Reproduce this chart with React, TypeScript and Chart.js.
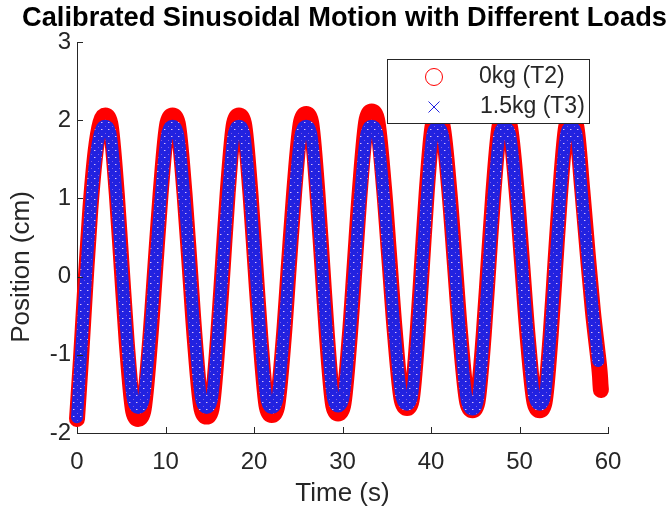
import React, { useEffect, useRef } from "react";
import { Chart, registerables } from "chart.js";

Chart.register(...registerables);

const FONT = "'Liberation Sans', Arial, Helvetica, sans-serif";
const TITLE = "Calibrated Sinusoidal Motion with Different Loads";
const X_LABEL = "Time (s)";
const Y_LABEL = "Position (cm)";
const SERIES_NAMES = ["0kg (T2)", "1.5kg (T3)"];

const xTickValues = [0, 10, 20, 30, 40, 50, 60];
const yTickValues = [-2, -1, 0, 1, 2, 3];

// time stamps (s) shared by both records
const timeCommon = [
  0, 0.45, 0.95, 1.5, 2.1, 2.65, 3.2,
  3.76, 4.5, 5.05, 5.6, 6.35, 6.9,
  7.49, 8.27, 8.85, 9.44, 10.22, 10.8,
  11.38, 12.15, 12.73, 13.3, 14.07, 14.65,
  15.2, 15.93, 16.48, 17.02, 17.75, 18.3,
  18.86, 19.6, 20.15, 20.71, 21.45, 22.0,
  22.59, 23.37, 23.95, 24.54, 25.32, 25.9,
  26.44, 27.16, 27.7, 28.24, 28.96, 29.5,
  30.07, 30.83, 31.4, 31.97, 32.73, 33.3,
  33.9, 34.7, 35.3, 35.9, 36.7, 37.3,
  37.81, 38.49, 39.0, 39.51, 40.19, 40.7,
  41.3, 42.1, 42.7, 43.3, 44.1, 44.7,
  45.24, 45.96, 46.5, 47.04, 47.76, 48.3,
  48.9, 49.7, 50.3, 50.9, 51.7, 52.3,
  52.83, 53.53, 54.05, 54.58, 55.28, 55.8,
  56.4, 57.1, 57.7, 58.3, 58.8,
];

// 0kg (T2) position (cm)
const pos0kg = [
  -1.82, -1.05, -0.1, 0.85, 1.6, 1.97, 2.06,
  1.96, 1.05, 0.12, -0.81, -1.72, -1.82,
  -1.72, -0.81, 0.12, 1.05, 1.96, 2.06,
  1.96, 1.06, 0.14, -0.79, -1.69, -1.79,
  -1.69, -0.79, 0.14, 1.06, 1.96, 2.06,
  1.96, 1.06, 0.15, -0.77, -1.67, -1.77,
  -1.67, -0.77, 0.16, 1.08, 1.98, 2.08,
  1.98, 1.08, 0.17, -0.75, -1.65, -1.75,
  -1.65, -0.75, 0.18, 1.11, 2.01, 2.11,
  2.01, 1.12, 0.22, -0.69, -1.58, -1.68,
  -1.58, -0.72, 0.18, 1.07, 1.93, 2.03,
  1.93, 1.06, 0.16, -0.74, -1.61, -1.71,
  -1.61, -0.74, 0.16, 1.06, 1.93, 2.03,
  1.93, 1.06, 0.16, -0.74, -1.61, -1.71,
  -1.61, -0.74, 0.16, 1.05, 1.92, 2.02,
  1.93, 1.1, 0.3, -0.45, -0.95,
];
const time0kgTail = [59.0, 59.1, 59.15, 59.2];
const pos0kgTail = [-1.15, -1.28, -1.38, -1.45];

// 1.5kg (T3) position (cm)
const pos15kg = [
  -1.8, -1.0, -0.12, 0.8, 1.52, 1.86, 1.93,
  1.84, 0.99, 0.13, -0.74, -1.59, -1.68,
  -1.59, -0.74, 0.13, 0.99, 1.84, 1.93,
  1.84, 0.99, 0.13, -0.74, -1.59, -1.68,
  -1.59, -0.74, 0.13, 0.99, 1.84, 1.93,
  1.84, 0.99, 0.13, -0.74, -1.59, -1.68,
  -1.59, -0.74, 0.13, 0.99, 1.84, 1.93,
  1.84, 1.0, 0.14, -0.73, -1.57, -1.66,
  -1.57, -0.73, 0.14, 1.0, 1.84, 1.93,
  1.84, 1.0, 0.15, -0.71, -1.55, -1.64,
  -1.55, -0.71, 0.14, 0.99, 1.83, 1.92,
  1.83, 0.98, 0.11, -0.76, -1.61, -1.7,
  -1.61, -0.76, 0.11, 0.98, 1.83, 1.92,
  1.83, 0.99, 0.14, -0.71, -1.55, -1.64,
  -1.55, -0.71, 0.14, 0.99, 1.83, 1.92,
  1.84, 1.0, 0.25, -0.45, -0.98,
];
const time15kgTail = [58.9];
const pos15kgTail = [-1.08];

const RED = "#ff0000";
const BLUE = "#2222e0";
const AXIS = "#262626";

function toPoints(times: number[], values: number[]) {
  return times.map((t, i) => ({ x: t, y: values[i] }));
}

// speckled fill imitating densely overlapping 'x' markers
function makeBluePattern(): CanvasPattern | string {
  const c = document.createElement("canvas");
  c.width = 7;
  c.height = 7;
  const g = c.getContext("2d");
  if (!g) return BLUE;
  g.fillStyle = BLUE;
  g.fillRect(0, 0, 7, 7);
  g.fillStyle = "rgba(235,225,255,0.85)";
  g.fillRect(3, 3, 1, 1);
  g.fillStyle = "rgba(170,120,230,0.7)";
  g.fillRect(0, 0, 1, 1);
  g.fillRect(4, 3, 1, 1);
  const p = g.createPattern(c, "repeat");
  return p || BLUE;
}

const decorPlugin = {
  id: "matlabDecor",
  afterDraw(chart: any) {
    const { ctx, chartArea, scales } = chart;
    ctx.save();

    // title (centred over the axes)
    ctx.fillStyle = "#000000";
    ctx.font = `bold 27px ${FONT}`;
    const w = ctx.measureText(TITLE).width || 640;
    const size = Math.max(20, Math.min(32, (27 * 645) / w));
    ctx.font = `bold ${size}px ${FONT}`;
    ctx.textAlign = "center";
    ctx.textBaseline = "middle";
    ctx.fillText(TITLE, (chartArea.left + chartArea.right) / 2 + 2, 18);

    // inward tick marks
    ctx.strokeStyle = AXIS;
    ctx.lineWidth = 1;
    ctx.beginPath();
    xTickValues.forEach((v) => {
      const px = Math.round(scales.x.getPixelForValue(v)) + 0.5;
      ctx.moveTo(px, chartArea.bottom);
      ctx.lineTo(px, chartArea.bottom - 6);
    });
    yTickValues.forEach((v) => {
      const py = Math.round(scales.y.getPixelForValue(v)) + 0.5;
      ctx.moveTo(chartArea.left, py);
      ctx.lineTo(chartArea.left + 6, py);
    });
    ctx.stroke();

    // y axis label
    ctx.save();
    ctx.translate(22, chartArea.top + 225);
    ctx.rotate(-Math.PI / 2);
    ctx.fillStyle = AXIS;
    ctx.font = `26px ${FONT}`;
    ctx.textAlign = "center";
    ctx.textBaseline = "middle";
    ctx.fillText(Y_LABEL, 0, 0);
    ctx.restore();

    // legend box
    const lx = chartArea.left + 310;
    const ly = chartArea.top + 17;
    const lw = 202;
    const lh = 64;
    ctx.fillStyle = "#ffffff";
    ctx.fillRect(lx, ly, lw, lh);
    ctx.strokeStyle = AXIS;
    ctx.lineWidth = 1;
    ctx.strokeRect(Math.round(lx) + 0.5, Math.round(ly) + 0.5, lw, lh);

    // circle marker
    ctx.strokeStyle = RED;
    ctx.lineWidth = 1;
    ctx.beginPath();
    ctx.arc(lx + 47, ly + 18, 8.5, 0, Math.PI * 2);
    ctx.stroke();
    // x marker
    ctx.strokeStyle = BLUE;
    ctx.beginPath();
    const cx = lx + 47;
    const cy = ly + 48;
    ctx.moveTo(cx - 5.5, cy - 5.5);
    ctx.lineTo(cx + 5.5, cy + 5.5);
    ctx.moveTo(cx - 5.5, cy + 5.5);
    ctx.lineTo(cx + 5.5, cy - 5.5);
    ctx.stroke();

    ctx.fillStyle = AXIS;
    ctx.font = `23px ${FONT}`;
    ctx.textAlign = "left";
    ctx.textBaseline = "middle";
    ctx.fillText(SERIES_NAMES[0], lx + 92, ly + 18);
    ctx.fillText(SERIES_NAMES[1], lx + 93, ly + 48);
    ctx.restore();
  },
};

export default function App() {
  const canvasRef = useRef<HTMLCanvasElement | null>(null);

  useEffect(() => {
    const canvas = canvasRef.current;
    if (!canvas) return;
    const bluePattern = makeBluePattern();
    const chart = new Chart(canvas, {
      type: "scatter",
      data: {
        datasets: [
          {
            label: SERIES_NAMES[0],
            data: toPoints(timeCommon.concat(time0kgTail), pos0kg.concat(pos0kgTail)),
            showLine: true,
            borderColor: RED,
            backgroundColor: RED,
            borderWidth: 16,
            pointRadius: 0,
            pointHoverRadius: 0,
            cubicInterpolationMode: "monotone",
            borderJoinStyle: "round",
            borderCapStyle: "round",
            clip: false,
            order: 2,
          },
          {
            label: SERIES_NAMES[1],
            data: toPoints(timeCommon.concat(time15kgTail), pos15kg.concat(pos15kgTail)),
            showLine: true,
            borderColor: bluePattern,
            backgroundColor: BLUE,
            borderWidth: 12,
            pointRadius: 0,
            pointHoverRadius: 0,
            cubicInterpolationMode: "monotone",
            borderJoinStyle: "round",
            borderCapStyle: "round",
            clip: false,
            order: 1,
          },
        ],
      } as any,
      options: {
        responsive: false,
        animation: false,
        devicePixelRatio: 1,
        events: [],
        layout: { padding: { left: 0, right: 64, top: 42, bottom: 0 } },
        plugins: {
          legend: { display: false },
          tooltip: { enabled: false },
          title: { display: false },
        },
        scales: {
          x: {
            type: "linear",
            min: 0,
            max: 60,
            afterBuildTicks: (s: any) => {
              s.ticks = xTickValues.map((v) => ({ value: v }));
            },
            ticks: {
              color: AXIS,
              font: { family: FONT, size: 24 },
              padding: 15,
              maxRotation: 0,
              autoSkip: false,
            },
            grid: { display: true, drawOnChartArea: false, drawTicks: false },
            border: { display: true, color: AXIS, width: 1 },
            title: {
              display: true,
              text: X_LABEL,
              color: AXIS,
              font: { family: FONT, size: 26 },
              padding: { top: 3, bottom: 3 },
            },
            afterFit: (s: any) => {
              s.height = 79;
              s.paddingLeft = 0;
              s.paddingRight = 0;
            },
          },
          y: {
            type: "linear",
            min: -2,
            max: 3,
            afterBuildTicks: (s: any) => {
              s.ticks = yTickValues.map((v) => ({ value: v }));
            },
            ticks: {
              color: AXIS,
              font: { family: FONT, size: 24 },
              padding: 6,
              autoSkip: false,
            },
            grid: { display: true, drawOnChartArea: false, drawTicks: false },
            border: { display: true, color: AXIS, width: 1 },
            afterFit: (s: any) => {
              s.width = 77;
              s.paddingTop = 0;
              s.paddingBottom = 0;
            },
          },
        },
      } as any,
      plugins: [decorPlugin],
    });
    return () => chart.destroy();
  }, []);

  return (
    <div style={{ position: "fixed", left: 0, top: 0, width: 672, height: 512, background: "#ffffff" }}>
      <canvas ref={canvasRef} width={672} height={512} style={{ display: "block" }} />
    </div>
  );
}
